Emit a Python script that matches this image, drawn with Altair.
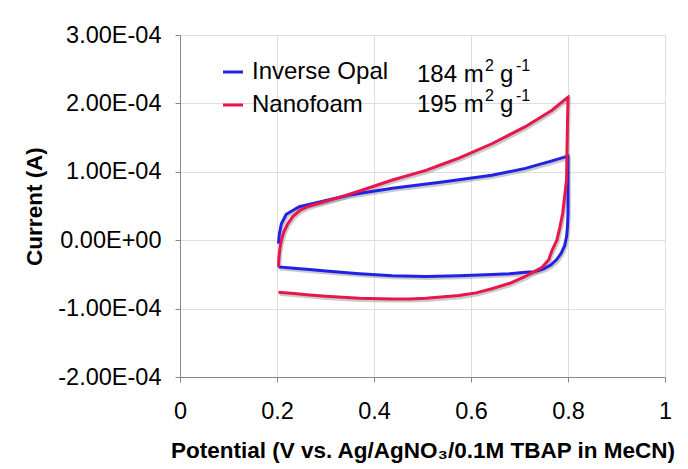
import altair as alt
import pandas as pd

# ---- data (current in A, potential in V) ----
series_names = ["Inverse Opal", "Nanofoam"]
surface_numbers = ["184", "195"]
colors = ["#2222E6", "#E8174B"]

io_x = [0.203, 0.205, 0.209, 0.219, 0.246, 0.301, 0.349, 0.438, 0.541, 0.643, 0.712, 0.767, 0.791, 0.799,
        0.800, 0.800, 0.800, 0.799, 0.797, 0.793, 0.786, 0.777, 0.765, 0.750, 0.730, 0.712, 0.680, 0.643,
        0.575, 0.507, 0.438, 0.370, 0.301, 0.267, 0.235, 0.203]
io_y = [-0.05, 0.10, 0.24, 0.38, 0.49, 0.58, 0.66, 0.76, 0.85, 0.95, 1.05, 1.16, 1.21, 1.23,
        1.23, 0.80, 0.40, 0.20, 0.05, -0.08, -0.19, -0.28, -0.36, -0.42, -0.46, -0.47, -0.49, -0.50,
        -0.52, -0.53, -0.52, -0.49, -0.45, -0.43, -0.41, -0.39]

nf_x = [0.203, 0.204, 0.206, 0.209, 0.214, 0.222, 0.233, 0.248, 0.267, 0.301, 0.335, 0.370, 0.438, 0.507,
        0.541, 0.575, 0.643, 0.712, 0.767, 0.796, 0.800,
        0.799, 0.798, 0.797, 0.789, 0.783, 0.777, 0.767, 0.760, 0.746, 0.730, 0.712, 0.680, 0.643, 0.610,
        0.575, 0.507, 0.472, 0.438, 0.370, 0.301, 0.267, 0.235, 0.203]
nf_y = [-0.39, -0.25, -0.12, 0.00, 0.12, 0.24, 0.35, 0.44, 0.50, 0.57, 0.64, 0.72, 0.88, 1.02,
        1.11, 1.20, 1.41, 1.66, 1.90, 2.07, 2.09,
        1.70, 1.36, 0.88, 0.39, 0.18, 0.00, -0.15, -0.29, -0.40, -0.46, -0.53, -0.63, -0.71, -0.77,
        -0.81, -0.85, -0.86, -0.86, -0.85, -0.82, -0.80, -0.78, -0.76]

y_ticks = [-2e-4, -1e-4, 0.0, 1e-4, 2e-4, 3e-4]
x_ticks = [0, 0.2, 0.4, 0.6, 0.8, 1]

rows = []
for name, xs, ys in [(series_names[0], io_x, io_y), (series_names[1], nf_x, nf_y)]:
    for i, (xv, yv) in enumerate(zip(xs, ys)):
        rows.append({"series": name, "idx": i, "potential": xv, "current": yv * 1e-4})
df = pd.DataFrame(rows)

FONT = "Liberation Sans"

x_enc = alt.X("potential:Q", scale=alt.Scale(domain=[0, 1], nice=False, zero=False),
              axis=alt.Axis(values=x_ticks, format=".1~f", title="Potential (V vs. Ag/AgNO₃/0.1M TBAP in MeCN)",
                            titleFontWeight="bold", titleFontSize=22.5, titleFont=FONT,
                            titleY=80, titleBaseline="alphabetic",
                            labelFontSize=23.5, labelPadding=17, labelFlush=False))
y_enc = alt.Y("current:Q", scale=alt.Scale(domain=[-2e-4, 3e-4], nice=False, zero=False),
              axis=alt.Axis(values=y_ticks,
                            labelExpr="abs(datum.value) < 1e-12 ? '0.00E+00' : (datum.value < 0 ? '-' : '') + format(abs(datum.value) * 1e4, '.2f') + 'E-04'",
                            title="Current (A)", titleFontWeight="bold", titleFontSize=22.5, titleFont=FONT,
                            titleX=-146, titleY=171, titleBaseline="middle", titleAlign="center",
                            labelFontSize=23.5, labelPadding=14, labelFlush=False))

shadow = alt.Chart(df).mark_line(color="#8a8a8a", opacity=0.45, strokeWidth=3.2, xOffset=1.2, yOffset=2,
                                 interpolate="linear").encode(
    x=x_enc, y=y_enc, detail="series:N", order="idx:Q")

lines = alt.Chart(df).mark_line(strokeWidth=3, interpolate="linear").encode(
    x=x_enc, y=y_enc,
    color=alt.Color("series:N", scale=alt.Scale(domain=series_names, range=colors),
                    legend=alt.Legend(title=None, orient="none", legendX=41, legendY=25,
                                      symbolType="stroke", symbolSize=400, symbolStrokeWidth=3,
                                      labelFontSize=24, labelFont=FONT, labelColor="black",
                                      labelOffset=7, rowPadding=9, padding=0)),
    order="idx:Q")

# surface-area annotations: "184 m² g⁻¹" built from base text and raised superscripts
texts = []
for i, num in enumerate(surface_numbers):
    base_y = 46.7 + 30.4 * i
    parts = [(num + " m", 237, base_y, 24), ("2", 305, base_y - 11, 16),
             ("g", 320, base_y, 24), ("-1", 336, base_y - 11, 16)]
    for txt, px, py, fs in parts:
        texts.append(alt.Chart(pd.DataFrame({"t": [txt]})).mark_text(
            align="left", baseline="alphabetic", fontSize=fs, font=FONT, color="black").encode(
            text="t:N", x=alt.value(px), y=alt.value(py)))

chart = alt.layer(shadow, lines, *texts).properties(
    width=485, height=342,
    autosize=alt.AutoSizeParams(type="none"),
    padding={"left": 172, "top": 27, "right": 15, "bottom": 88},
).configure_view(stroke=None).configure_axis(
    grid=False, domainColor="#222222", tickColor="#222222", domainWidth=1.5, tickWidth=1.5,
    tickSize=6, labelColor="black", titleColor="black", labelFont=FONT,
).configure(background="white")

chart.save("out.html", embed_options={"renderer": "svg", "actions": False})
